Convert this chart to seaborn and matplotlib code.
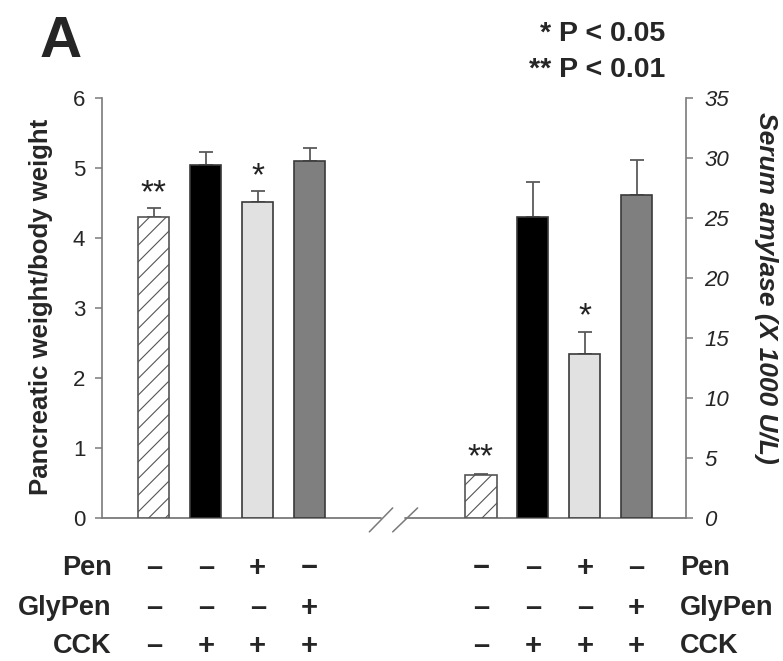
import numpy as np
import pandas as pd
import matplotlib
matplotlib.use("Agg")
import matplotlib.pyplot as plt
import seaborn as sns


# ======================================================
# DATA
# ======================================================
groups = ["Control", "CCK", "Pen + CCK", "GlyPen + CCK"]
pancreas_ratio = [4.30, 5.04, 4.52, 5.10]
pancreas_sem = [0.13, 0.19, 0.15, 0.19]
amylase = [3.6, 25.1, 13.7, 26.9]
amylase_sem = [0.1, 2.9, 1.8, 2.9]
sig_marks = ["**", "", "*", ""]
row_names = ["Pen", "GlyPen", "CCK"]
pen_left = ["\u2013", "\u2013", "+", "\u2212"]
pen_right = ["\u2212", "\u2013", "+", "\u2013"]
glypen_row = ["\u2013", "\u2013", "\u2013", "+"]
cck_row = ["\u2013", "+", "+", "+"]
left_ticks = [0, 1, 2, 3, 4, 5, 6]
right_ticks = [0, 5, 10, 15, 20, 25, 30, 35]


# ======================================================
# STYLE
# ======================================================
sns.set_style("white")
plt.rcParams['font.family'] = ['Liberation Sans', 'DejaVu Sans']
plt.rcParams['hatch.linewidth'] = 0.8

bar_colors = ["white", "black", "#e1e1e1", "#7f7f7f"]
palette = dict(zip(groups, bar_colors))
axis_grey = "#7a7a7a"
err_grey = "#5a5a5a"

left_pos = [0, 1, 2, 3]
right_pos = [6.3, 7.3, 8.3, 9.3]

fig = plt.figure(figsize=(7.83, 6.61), dpi=100)
ax = fig.add_axes([102 / 783, 1 - 518 / 661, 584 / 783, 420 / 661])
ax2 = ax.twinx()

df_left = pd.DataFrame({"pos": left_pos, "val": pancreas_ratio, "grp": groups})
df_right = pd.DataFrame({"pos": right_pos, "val": amylase, "grp": groups})


def draw_group(axis, df, sem):
    sns.barplot(data=df, x="pos", y="val", hue="grp", palette=palette,
                native_scale=True, dodge=False, width=0.6, errorbar=None,
                legend=False, edgecolor="#3a3a3a", linewidth=1.2,
                zorder=3, ax=axis)
    for p in axis.patches:
        p.set_zorder(3)
        if p.get_facecolor()[:3] == (1.0, 1.0, 1.0):
            p.set_hatch("//")
            p.set_edgecolor("#555555")
    axis.errorbar(df["pos"], df["val"], yerr=[np.zeros(len(sem)), sem],
                  fmt="none", ecolor=err_grey, elinewidth=1.3,
                  capsize=5, capthick=1.3, zorder=2)


draw_group(ax, df_left, pancreas_sem)
draw_group(ax2, df_right, amylase_sem)

# significance stars
for x, y, e, s in zip(left_pos, pancreas_ratio, pancreas_sem, sig_marks):
    if s:
        ax.annotate(s, xy=(x, y + e), xytext=(0, -1), textcoords="offset points",
                    ha="center", va="bottom", fontsize=24, color="#222222")
for x, y, e, s in zip(right_pos, amylase, amylase_sem, sig_marks):
    if s:
        ax2.annotate(s, xy=(x, y + e), xytext=(0, 0), textcoords="offset points",
                     ha="center", va="bottom", fontsize=24, color="#222222")

# ======================================================
# AXES
# ======================================================
for a in (ax, ax2):
    a.set_xlim(-1, 10.25)
    a.set_xticks([])
    a.set_xlabel("")
    a.set_ylabel("")
    for side in ("top", "bottom"):
        a.spines[side].set_visible(False)

ax.set_ylim(0, 6)
ax2.set_ylim(0, 35)
ax.set_yticks(left_ticks)
ax2.set_yticks(right_ticks)
ax.spines["right"].set_visible(False)
ax2.spines["left"].set_visible(False)
ax.spines["left"].set_color(axis_grey)
ax2.spines["right"].set_color(axis_grey)
ax.spines["left"].set_linewidth(1.2)
ax2.spines["right"].set_linewidth(1.2)

ax.tick_params(axis="y", direction="out", length=5, width=1.1, color=axis_grey,
               labelsize=16, pad=7, left=True)
ax2.tick_params(axis="y", direction="out", length=5, width=1.1, color=axis_grey,
                labelsize=16, pad=8, right=True)
for t in ax2.get_yticklabels():
    t.set_fontstyle("italic")

# broken baseline
xt = ax.get_xaxis_transform()
ax.plot([-1, 4.38], [0, 0], transform=xt, color=axis_grey, lw=1.3, clip_on=False)
ax.plot([4.83, 10.25], [0, 0], transform=xt, color=axis_grey, lw=1.3, clip_on=False)
ax.plot([4.15, 4.6], [-0.033, 0.024], transform=xt, color=axis_grey, lw=1.1, clip_on=False)
ax.plot([4.6, 5.08], [-0.033, 0.024], transform=xt, color=axis_grey, lw=1.1, clip_on=False)

# ======================================================
# LABELS
# ======================================================
fig.text(41 / 783, 1 - 307 / 661, "Pancreatic weight/body weight", rotation=90,
         ha="center", va="center", fontsize=18.5, fontweight="bold")
fig.text(766 / 783, 1 - 288 / 661, "Serum amylase (X 1000 U/L)", rotation=270,
         ha="center", va="center", fontsize=19, fontweight="bold", fontstyle="italic")

fig.text(40 / 783, 1 - 42 / 661, "A", ha="left", va="center", fontsize=42,
         fontweight="bold")
fig.text(665 / 783, 1 - 34 / 661, "* P < 0.05", ha="right", va="center",
         fontsize=20.5, fontweight="bold")
fig.text(665 / 783, 1 - 70 / 661, "** P < 0.01", ha="right", va="center",
         fontsize=20.5, fontweight="bold")

# treatment table under the bars
row_y = [-0.119, -0.214, -0.305]
rows_left = [pen_left, glypen_row, cck_row]
rows_right = [pen_right, glypen_row, cck_row]
for name, y, rl, rr in zip(row_names, row_y, rows_left, rows_right):
    ax.text(-0.81, y, name, transform=xt, ha="right", va="center",
            fontsize=19.5, fontweight="bold")
    ax.text(10.13, y, name, transform=xt, ha="left", va="center",
            fontsize=19.5, fontweight="bold")
    for x, s in zip(left_pos, rl):
        ax.text(x, y, s, transform=xt, ha="center", va="center",
                fontsize=21, fontweight="bold")
    for x, s in zip(right_pos, rr):
        ax.text(x, y, s, transform=xt, ha="center", va="center",
                fontsize=21, fontweight="bold")

fig.savefig("out.png", dpi=100)
